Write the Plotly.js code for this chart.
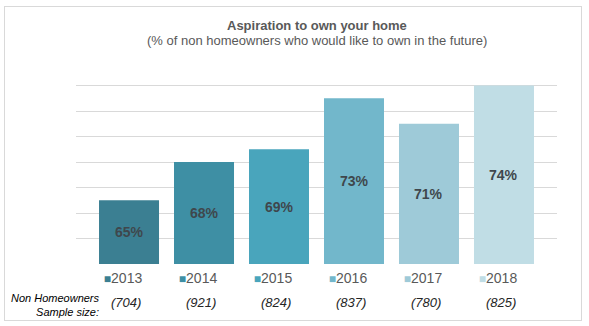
<!DOCTYPE html>
<html>
<head>
<meta charset="utf-8">
<script src="https://cdn.plot.ly/plotly-3.0.1.min.js"></script>
<style>
html,body{margin:0;padding:0;background:#fff;}
#wrap{position:relative;width:589px;height:326px;}
#chart{width:589px;height:326px;}
#frame{position:absolute;left:4px;top:6px;width:576px;height:313px;border:1px solid #d9d9d9;pointer-events:none;}
</style>
</head>
<body>
<div id="wrap"><div id="chart"></div><div id="frame"></div></div>
<script>
const years = ['2013','2014','2015','2016','2017','2018'];
const values = [65, 68, 69, 73, 71, 74];
const sampleSizes = ['(704)','(921)','(824)','(837)','(780)','(825)'];
const colors = ['#3b7f92','#3e8fa4','#49a5bc','#72b7cb','#9ecad8','#c0dde5'];
const yMin = 60, yMax = 76;

const FONT = 'Liberation Sans, Arial, sans-serif';

const trace = {
  type: 'bar',
  x: years,
  y: values,
  marker: {color: colors},
  hoverinfo: 'none',
  width: 0.8
};

const annotations = [];
// data labels, centered in the visible part of each bar
values.forEach((v, i) => {
  annotations.push({
    xref: 'x', yref: 'y', x: i, y: (yMin + v) / 2,
    text: '<b>' + v + '%</b>', showarrow: false,
    font: {family: FONT, size: 14, color: '#3f474c'}
  });
});
// sample size row
sampleSizes.forEach((s, i) => {
  annotations.push({
    xref: 'x', yref: 'paper', x: i, y: 0,
    yanchor: 'middle', yshift: -38, xshift: -3,
    text: '<i>' + s + '</i>', showarrow: false,
    font: {family: FONT, size: 13, color: '#262626'}
  });
});
annotations.push({
  xref: 'paper', yref: 'paper', x: 0, y: 0, xanchor: 'right', yanchor: 'middle',
  xshift: 26, yshift: -41, align: 'right',
  text: '<i>Non Homeowners<br>Sample size:</i>', showarrow: false,
  font: {family: FONT, size: 11, color: '#000000'}
});
// title lines
annotations.push({
  xref: 'paper', yref: 'paper', x: 0.5, y: 1, yanchor: 'middle', yshift: 35,
  text: '<b>Aspiration to own your home</b>', showarrow: false,
  font: {family: FONT, size: 13, color: '#595959'}
});
annotations.push({
  xref: 'paper', yref: 'paper', x: 0.5, y: 1, yanchor: 'middle', yshift: 20,
  text: '(% of non homeowners who would like to own in the future)', showarrow: false,
  font: {family: FONT, size: 13, color: '#595959'}
});

const layout = {
  width: 589, height: 326,
  margin: {l: 76, r: 32, t: 60, b: 62},
  paper_bgcolor: '#ffffff', plot_bgcolor: '#ffffff',
  showlegend: false,
  xaxis: {
    type: 'category',
    range: [-0.707, 5.707],
    tickvals: years,
    ticktext: years.map((y, i) => '<span style="color:' + colors[i] + ';font-size:12px">■</span>' + y),
    tickfont: {family: FONT, size: 14, color: '#595959'},
    ticks: '', showline: false, showgrid: false, zeroline: false,
    ticklabelshift: -6, ticklabelstandoff: 4
  },
  yaxis: {
    range: [yMin, yMax], dtick: 2, tick0: yMin,
    showticklabels: false, ticks: '',
    showgrid: true, gridcolor: '#d9d9d9', gridwidth: 1,
    zeroline: false, showline: false
  },
  annotations: annotations
};

Plotly.newPlot('chart', [trace], layout, {displayModeBar: false, staticPlot: true});
</script>
</body>
</html>
